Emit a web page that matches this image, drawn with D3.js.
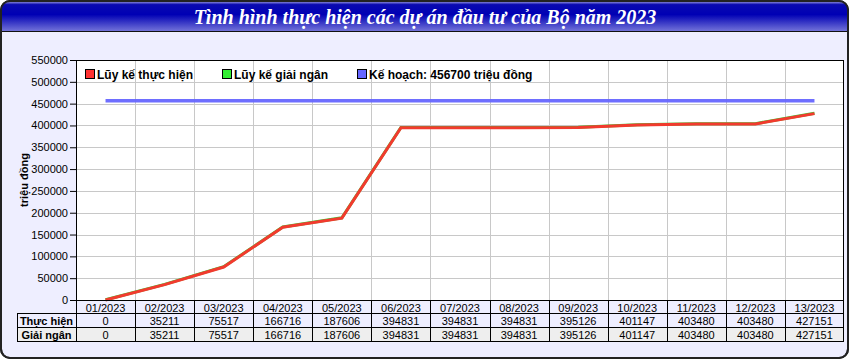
<!DOCTYPE html>
<html><head><meta charset="utf-8">
<script src="https://cdn.jsdelivr.net/npm/d3@7"></script>
<style>body{margin:0;background:#fff}svg{display:block}</style>
</head><body>
<svg id="c" width="850" height="360"></svg>
<script>
const title = "Tình hình thực hiện các dự án đầu tư của Bộ năm 2023";
const months = ["01/2023","02/2023","03/2023","04/2023","05/2023","06/2023","07/2023","08/2023","09/2023","10/2023","11/2023","12/2023","13/2023"];
const thucHien = [0,35211,75517,166716,187606,394831,394831,394831,395126,401147,403480,403480,427151];
const giaiNgan = [0,35211,75517,166716,187606,394831,394831,394831,395126,401147,403480,403480,427151];
const keHoach = 456700;
const yTicks = [0,50000,100000,150000,200000,250000,300000,350000,400000,450000,500000,550000];
const legendLabels = ["Lũy kế thực hiện","Lũy kế giải ngân","Kế hoạch: 456700 triệu đồng"];
const rowLabels = ["Thực hiện","Giải ngân"];
const yLabel = "triệu đồng";

const svg = d3.select("#c");
const font = "'Liberation Sans', Arial, sans-serif";
const defs = svg.append("defs");
const g1 = defs.append("linearGradient").attr("id","tg").attr("x1",0).attr("y1",0).attr("x2",0).attr("y2",1);
[[0,"#b0b0e8"],[0.12,"#0a0ab0"],[0.45,"#0000b4"],[1,"#7272d8"]].forEach(s=>g1.append("stop").attr("offset",s[0]).attr("stop-color",s[1]));

svg.append("rect").attr("x",1).attr("y",1).attr("width",847).attr("height",357).attr("rx",9)
  .attr("fill","#eeeeff").attr("stroke","#222").attr("stroke-width",2);
const clip = defs.append("clipPath").attr("id","fc");
clip.append("rect").attr("x",1).attr("y",1).attr("width",847).attr("height",357).attr("rx",9);
svg.append("rect").attr("x",1).attr("y",1).attr("width",847).attr("height",30).attr("fill","url(#tg)").attr("clip-path","url(#fc)");
svg.append("line").attr("x1",1).attr("x2",848).attr("y1",31.5).attr("y2",31.5).attr("stroke","#111").attr("stroke-width",1);
svg.append("rect").attr("x",1).attr("y",1).attr("width",847).attr("height",357).attr("rx",9)
  .attr("fill","none").attr("stroke","#222").attr("stroke-width",2);
svg.append("text").attr("x",425).attr("y",24).attr("text-anchor","middle")
  .attr("font-family","'Liberation Serif','Times New Roman',serif").attr("font-style","italic").attr("font-weight","bold")
  .attr("font-size",20).attr("fill","#fff").text(title);

const L = 76, R = 844, T = 60, B = 300;
const x = d3.scaleBand().domain(months).range([L,R]);
const y = d3.scaleLinear().domain([0,550000]).range([B,T]);
const cx = m => x(m) + x.bandwidth()/2;

svg.append("rect").attr("x",L).attr("y",T).attr("width",R-L).attr("height",B-T).attr("fill","#fff");
svg.append("g").selectAll("line").data(yTicks.slice(1,-1)).join("line")
  .attr("x1",L).attr("x2",R).attr("y1",d=>Math.round(y(d))+0.5).attr("y2",d=>Math.round(y(d))+0.5)
  .attr("stroke","#c8c8c8");
svg.append("g").selectAll("line").data(months.slice(1)).join("line")
  .attr("x1",d=>Math.round(x(d))+0.5).attr("x2",d=>Math.round(x(d))+0.5).attr("y1",T).attr("y2",B)
  .attr("stroke","#c8c8c8");

const ya = svg.append("g").attr("transform",`translate(${L},0)`)
  .call(d3.axisLeft(y).tickValues(yTicks).tickSize(6).tickPadding(2).tickFormat(d3.format("d")));
ya.select(".domain").remove();
ya.selectAll("text").attr("font-family",font).attr("font-size",11).attr("fill","#000");
ya.selectAll("line").attr("stroke","#000");

svg.append("text").attr("transform","translate(28,180) rotate(-90)").attr("text-anchor","middle")
  .attr("font-family",font).attr("font-weight","bold").attr("font-size",11).text(yLabel);

const line = d3.line().x((d,i)=>cx(months[i])).y(d=>y(d));
svg.append("path").datum(giaiNgan).attr("d",line).attr("fill","none").attr("stroke","#33cc33").attr("stroke-width",3).attr("transform","translate(0,-0.3)");
svg.append("path").datum(thucHien).attr("d",line).attr("fill","none").attr("stroke","#f23a2e").attr("stroke-width",3);
svg.append("line").attr("x1",cx(months[0])).attr("x2",cx(months[months.length-1]))
  .attr("y1",y(keHoach)).attr("y2",y(keHoach)).attr("stroke","#6666ff").attr("stroke-width",3.5).attr("stroke-opacity",0.95);

svg.append("rect").attr("x",L+0.5).attr("y",T+0.5).attr("width",R-L-1).attr("height",B-T).attr("fill","none").attr("stroke","#000");

const legColors = ["#ff3333","#33ee33","#6666ff"];
const legX = [85,222,357];
legendLabels.forEach((t,i)=>{
  svg.append("rect").attr("x",legX[i]+0.5).attr("y",69.5).attr("width",9).attr("height",9).attr("fill",legColors[i]).attr("stroke","#000");
  svg.append("text").attr("x",legX[i]+12).attr("y",79).attr("font-family",font).attr("font-weight","bold").attr("font-size",12).text(t);
});

const rowH = [300,313,327,341];
svg.append("rect").attr("x",17).attr("y",rowH[2]).attr("width",R-17).attr("height",rowH[3]-rowH[2]).attr("fill","#eeeeee");
const tg = svg.append("g").attr("stroke","#000").attr("shape-rendering","crispEdges");
tg.append("line").attr("x1",L).attr("x2",R).attr("y1",rowH[0]+0.5).attr("y2",rowH[0]+0.5);
[1,2,3].forEach(r=>tg.append("line").attr("x1",17).attr("x2",R).attr("y1",rowH[r]+0.5).attr("y2",rowH[r]+0.5));
tg.append("line").attr("x1",17.5).attr("x2",17.5).attr("y1",rowH[1]).attr("y2",rowH[3]+1);
months.forEach(m=>tg.append("line").attr("x1",Math.round(x(m))+0.5).attr("x2",Math.round(x(m))+0.5).attr("y1",rowH[0]).attr("y2",rowH[3]+1));
tg.append("line").attr("x1",R-0.5).attr("x2",R-0.5).attr("y1",rowH[0]).attr("y2",rowH[3]+1);

const tt = svg.append("g").attr("font-family",font).attr("font-size",11).attr("text-anchor","middle");
tt.selectAll(".h").data(months).join("text").attr("x",d=>cx(d)).attr("y",rowH[0]+11.5).text(d=>d);
[thucHien,giaiNgan].forEach((arr,r)=>{
  tt.append("g").selectAll("text").data(arr).join("text").attr("x",(d,i)=>cx(months[i])).attr("y",rowH[r+1]+11.5).text(d=>d);
  tt.append("text").attr("x",(17+L)/2).attr("y",rowH[r+1]+11.5).attr("font-weight","bold").text(rowLabels[r]);
});
</script>
</body></html>
